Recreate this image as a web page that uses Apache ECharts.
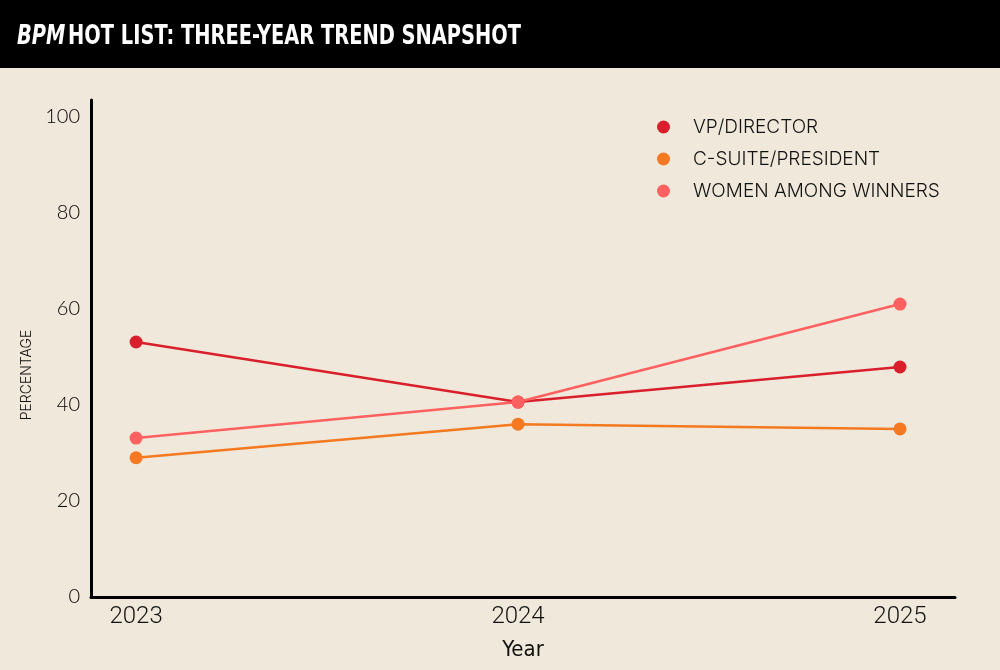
<!DOCTYPE html>
<html>
<head>
<meta charset="utf-8">
<script src="https://cdn.jsdelivr.net/npm/echarts@6/dist/echarts.min.js"></script>
<style>
html,body{margin:0;padding:0;background:#f0e8da;}
#c{width:1000px;height:670px;}
</style>
</head>
<body>
<div id="c"></div>
<script>
const years = [2023, 2024, 2025];
const vpDirector = [53.1, 40.6, 47.9];
const cSuite = [29.0, 36.0, 35.0];
const women = [33.1, 40.6, 61.0];
const yTicks = [0, 20, 40, 60, 80, 100];
const seriesNames = ['VP/DIRECTOR', 'C-SUITE/PRESIDENT', 'WOMEN AMONG WINNERS'];
const colors = ['#d91f2b', '#f47920', '#ff6060'];

const chart = echarts.init(document.getElementById('c'));
const mk = (name, vals, color) => ({
  name: name,
  type: 'line',
  data: years.map((y, i) => [y, vals[i]]),
  symbol: 'circle',
  symbolSize: 13,
  lineStyle: {color: color, width: 2.5},
  itemStyle: {color: color},
  emphasis: {disabled: true},
  z: 3
});
const condensed = "'DejaVu Sans Condensed','Liberation Sans Narrow',sans-serif";
chart.setOption({
  backgroundColor: '#f0e8da',
  animation: false,
  graphic: [
    {type: 'rect', left: 0, top: 0, shape: {x: 0, y: 0, width: 1000, height: 68}, style: {fill: '#000'}, z: 10},
    {type: 'text', x: 17, y: 37, scaleX: 0.83, originX: 0, originY: 0, z: 11, style: {
      text: '{i|BPM} {b|HOT LIST: THREE-YEAR TREND SNAPSHOT}',
      verticalAlign: 'middle',
      rich: {
        i: {fill: '#fff', fontSize: 26, fontWeight: 'bold', fontStyle: 'italic', fontFamily: condensed},
        b: {fill: '#fff', fontSize: 26, fontWeight: 'bold', fontFamily: condensed}
      }
    }},
    {type: 'text', x: 27, y: 375, rotation: Math.PI / 2, z: 11, style: {
      text: 'PERCENTAGE', fill: '#111', fontSize: 14, fontFamily: 'Inter, sans-serif', fontWeight: 300,
      align: 'center', verticalAlign: 'middle'
    }}
  ],
  legend: {
    orient: 'vertical',
    left: 652,
    top: 112,
    itemWidth: 13,
    itemHeight: 13,
    itemGap: 12,
    icon: 'circle',
    data: seriesNames,
    textStyle: {fontSize: 19, color: '#111', fontFamily: 'Inter, sans-serif', fontWeight: 300, lineHeight: 20, padding: [0, 0, 0, 18]}
  },
  grid: {left: 91, right: 45, top: 100, bottom: 73},
  xAxis: {
    type: 'value',
    min: 2022.882,
    max: 2025.144,
    name: 'Year',
    nameLocation: 'middle',
    nameGap: 42,
    nameTextStyle: {fontSize: 22, color: '#111', fontFamily: condensed},
    axisLine: {show: true, lineStyle: {color: '#000', width: 3}},
    axisTick: {show: false},
    splitLine: {show: false},
    axisLabel: {customValues: years, fontSize: 24, color: '#111', margin: 8, fontFamily: 'Roboto, sans-serif', fontWeight: 300, formatter: v => String(Math.round(v))}
  },
  yAxis: {
    type: 'value',
    min: 0,
    max: 103.5,
    axisLine: {show: true, lineStyle: {color: '#000', width: 3}},
    axisTick: {show: false},
    splitLine: {show: false},
    axisLabel: {customValues: yTicks, fontSize: 20, color: '#000', margin: 11, fontFamily: 'Lato, sans-serif', fontWeight: 300}
  },
  series: [
    mk(seriesNames[0], vpDirector, colors[0]),
    mk(seriesNames[1], cSuite, colors[1]),
    mk(seriesNames[2], women, colors[2])
  ]
});
</script>
</body>
</html>
